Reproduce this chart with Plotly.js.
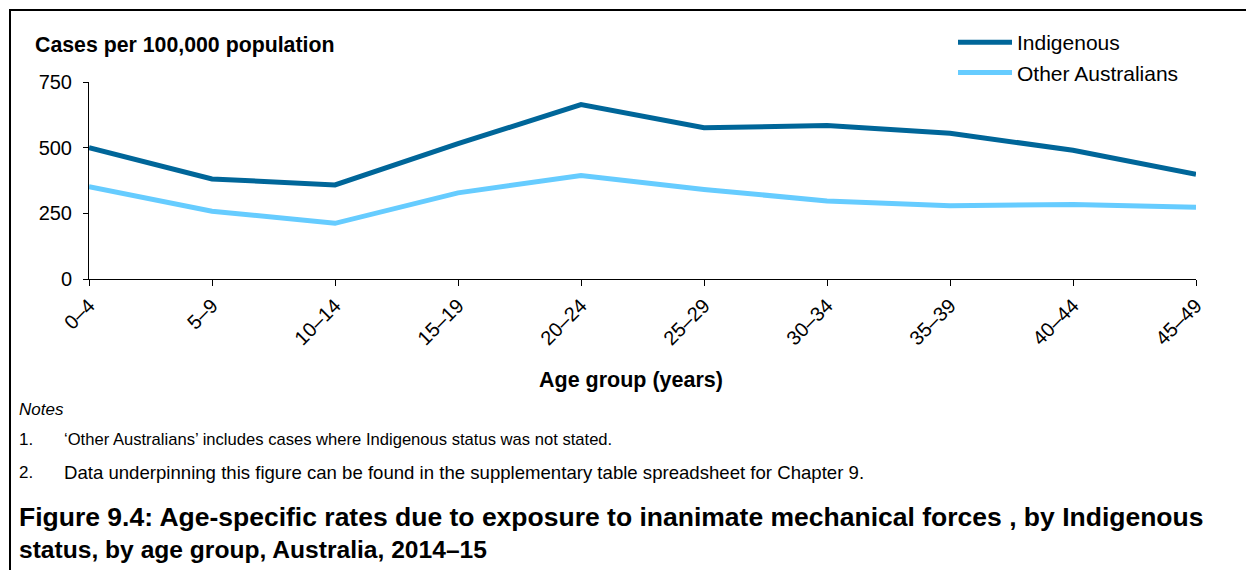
<!DOCTYPE html>
<html>
<head>
<meta charset="utf-8">
<script src="https://cdn.plot.ly/plotly-3.0.1.min.js"></script>
<style>
html,body{margin:0;padding:0;background:#fff;}
#chart{width:1246px;height:570px;}
</style>
</head>
<body>
<div id="chart"></div>
<script>
// Data
const ageGroups = ["0–4","5–9","10–14","15–19","20–24","25–29","30–34","35–39","40–44","45–49"];
const indigenous = [500, 381, 358, 515, 664, 576, 584, 555, 490, 399];
const otherAustralians = [351, 258, 212, 328, 394, 341, 297, 279, 284, 273];
const yTicks = [0, 250, 500, 750];
const seriesNames = ["Indigenous", "Other Australians"];
const notes = [
  "‘Other Australians’ includes cases where Indigenous status was not stated.",
  "Data underpinning this figure can be found in the supplementary table spreadsheet for Chapter 9."
];
const captionLines = [
  "Figure 9.4: Age-specific rates due to exposure to inanimate mechanical forces , by Indigenous",
  "status, by age group, Australia, 2014–15"
];

const W = 1246, H = 570;
const M = {l: 89, r: 50, t: 82, b: 291};
const PW = W - M.l - M.r, PH = H - M.t - M.b;
const px = X => (X - M.l) / PW;           // pixel x -> paper x
const py = Y => (H - M.b - Y) / PH;       // pixel y -> paper y

const FONT = "Liberation Sans, Arial, Helvetica, sans-serif";

const traces = [
  {x: ageGroups, y: indigenous, name: seriesNames[0], type: "scatter", mode: "lines",
   line: {color: "#006699", width: 5}},
  {x: ageGroups, y: otherAustralians, name: seriesNames[1], type: "scatter", mode: "lines",
   line: {color: "#66CCFF", width: 5}}
];

function txt(text, X, Y, size, anchor) {
  return {text: text, xref: "paper", yref: "paper", x: px(X), y: py(Y),
          xanchor: anchor || "left", yanchor: "middle", showarrow: false, align: "left",
          font: {family: FONT, size: size, color: "#000"}};
}

const layout = {
  width: W, height: H,
  margin: M,
  paper_bgcolor: "#fff", plot_bgcolor: "#fff",
  font: {family: FONT, color: "#000", size: 20},
  showlegend: true,
  legend: {
    x: px(953), y: py(22), xanchor: "left", yanchor: "top",
    bgcolor: "rgba(0,0,0,0)", borderwidth: 0,
    font: {family: FONT, size: 21, color: "#000"},
    itemwidth: 54, tracegroupgap: 0
  },
  xaxis: {
    type: "category", range: [0, ageGroups.length - 1],
    showline: true, linecolor: "#000", linewidth: 1,
    ticks: "outside", ticklen: 6, tickcolor: "#000", tickwidth: 1,
    tickangle: -45, showgrid: false, zeroline: false,
    tickfont: {family: FONT, size: 20, color: "#000"}, fixedrange: true
  },
  yaxis: {
    range: [0, 750], tickvals: yTicks, ticktext: yTicks.map(String),
    showline: true, linecolor: "#000", linewidth: 1,
    ticks: "outside", ticklen: 5, tickcolor: "#000", tickwidth: 1,
    ticklabelstandoff: 7,
    showgrid: false, zeroline: false,
    tickfont: {family: FONT, size: 20, color: "#000"}, fixedrange: true
  },
  shapes: [
    {type: "line", xref: "paper", yref: "paper", x0: px(9), x1: px(W + 5), y0: py(10), y1: py(10),
     line: {color: "#000", width: 2}},
    {type: "line", xref: "paper", yref: "paper", x0: px(10), x1: px(10), y0: py(9), y1: py(H + 5),
     line: {color: "#000", width: 2}}
  ],
  annotations: [
    txt("<b>Cases per 100,000 population</b>", 33, 45, 21.3),
    txt("<b>Age group (years)</b>", 631, 380, 21.5, "center"),
    txt("<i>Notes</i>", 17, 409, 17),
    txt("1.", 17, 439, 17),
    txt(notes[0], 62, 439, 16.6),
    txt("2.", 17, 472, 17),
    txt(notes[1], 62, 472, 18.6),
    txt("<b>" + captionLines[0] + "</b>", 17, 517, 26.5),
    txt("<b>" + captionLines[1] + "</b>", 17, 549, 24.6)
  ]
};

Plotly.newPlot("chart", traces, layout, {displayModeBar: false, staticPlot: true});
</script>
</body>
</html>
